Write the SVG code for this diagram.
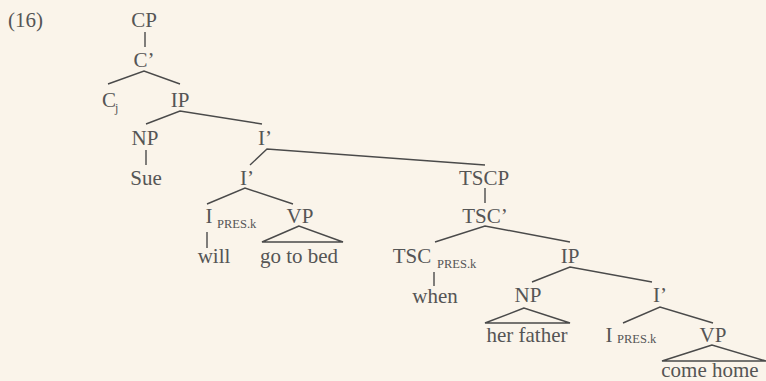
<svg xmlns="http://www.w3.org/2000/svg" width="766" height="381" viewBox="0 0 766 381">
<style>
text{font-family:"Liberation Serif","Times New Roman",serif;fill:#555;font-size:21px}
.m{text-anchor:middle}
.s{font-size:12.5px}
.j{font-size:12px}
.e{stroke:#4a4a4a;stroke-width:1.4;fill:none}
</style>
<rect width="766" height="381" fill="#faf4ea"/>
<text x="8" y="27" font-size="19">(16)</text>
<g id="connectors" class="e">
<line x1="145" y1="32" x2="145" y2="47"/>
<polyline points="108,84 144,71 180,84"/>
<polyline points="146,124 180,111 262,124"/>
<line x1="146" y1="150" x2="146" y2="165"/>
<polyline points="250,165 267,149 485,165"/>
<polyline points="207,204 245,188 293,204"/>
<line x1="207" y1="232" x2="207" y2="248"/>
<polygon points="299,226 262,242 343,242"/>
<line x1="485" y1="188" x2="485" y2="203"/>
<polyline points="435,242 485,226 570,242"/>
<line x1="434" y1="272" x2="434" y2="286"/>
<polyline points="532,282 570,267 652,282"/>
<polygon points="524,308 485,323 570,323"/>
<polyline points="623,323 660,307 713,323"/>
<polygon points="712,345 662,361 766,361"/>
</g>
<g id="n-cp"><text class="m" x="144" y="27">CP</text></g>
<g id="n-cbar"><text class="m" x="144" y="67">C’</text></g>
<g id="n-cj"><text class="m" x="109" y="107">C</text><text class="j" x="115" y="112">j</text></g>
<g id="n-ip1"><text class="m" x="180" y="107">IP</text></g>
<g id="n-np1"><text class="m" x="145" y="145">NP</text></g>
<g id="n-sue"><text class="m" x="146" y="185">Sue</text></g>
<g id="n-ibar1"><text class="m" x="265" y="145">I’</text></g>
<g id="n-ibar2"><text class="m" x="247" y="185">I’</text></g>
<g id="n-i1"><text class="m" x="209" y="223">I</text><text class="s" x="217" y="228">PRES.k</text></g>
<g id="n-vp1"><text class="m" x="300" y="223">VP</text></g>
<g id="n-will"><text class="m" x="214" y="263">will</text></g>
<g id="n-gotobed"><text class="m" x="299" y="263">go to bed</text></g>
<g id="n-tscp"><text class="m" x="484" y="185">TSCP</text></g>
<g id="n-tscbar"><text class="m" x="485" y="223">TSC’</text></g>
<g id="n-tsc"><text class="m" x="412" y="263">TSC</text><text class="s" x="437" y="268">PRES.k</text></g>
<g id="n-ip2"><text class="m" x="570" y="263">IP</text></g>
<g id="n-when"><text class="m" x="435" y="303">when</text></g>
<g id="n-np2"><text class="m" x="528" y="302">NP</text></g>
<g id="n-herfather"><text class="m" x="527" y="342">her father</text></g>
<g id="n-ibar3"><text class="m" x="660" y="302">I’</text></g>
<g id="n-i2"><text class="m" x="609" y="342">I</text><text class="s" x="617" y="343">PRES.k</text></g>
<g id="n-vp2"><text class="m" x="713" y="342">VP</text></g>
<g id="n-comehome"><text class="m" x="710" y="377">come home</text></g>
</svg>
